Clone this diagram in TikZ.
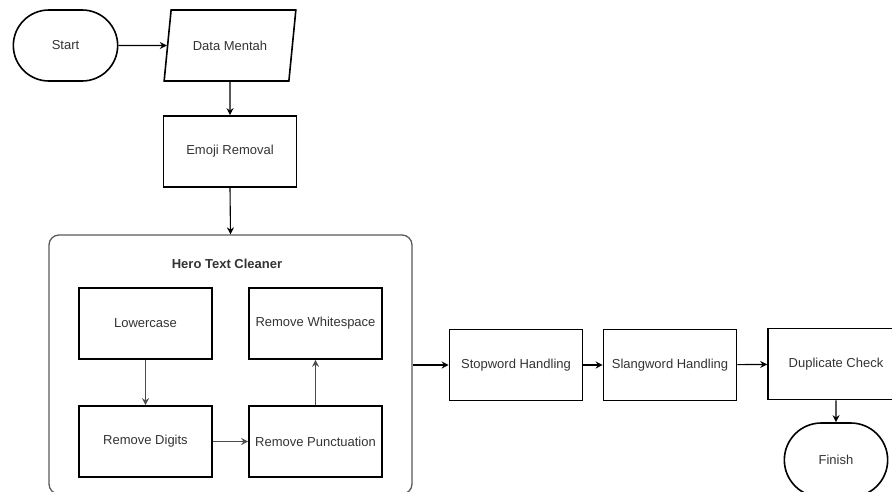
\documentclass[tikz,border=0pt]{standalone}
\usepackage{fontspec}
\setmainfont{Liberation Sans}
\usetikzlibrary{arrows.meta, shapes.geometric, shapes.misc}

\begin{document}
\begin{tikzpicture}[
    x = 1pt, y = -1pt,
    font = \fontsize{13}{15}\selectfont,
    text = black!80,
    %
    step box/.style = {draw, line width = 1.6pt,
      minimum width = {133pt},
      minimum height = {71pt}},
    terminal/.style = {draw, line width = 1.6pt,
      rounded rectangle, rounded rectangle arc length = 180,
      minimum width = {111pt},
      minimum height = {71pt}},
    io/.style = {draw, line width = 1.6pt, trapezium,
      trapezium left angle = 73.5, trapezium right angle = 106.5,
      trapezium stretches = true,
      minimum width = {132pt},
      minimum height = {71pt}},
    group/.style = {draw = black!65, line width = 1.3pt,
      rounded corners = 10pt,
      minimum width = {363pt},
      minimum height = {259pt}},
    %
    flow/.style = {line width = 1.1pt, -{Stealth[length = 7pt, width = 7pt]}},
    inner flow/.style = {flow, black!70},
    ]

    \clip (0, 0) rectangle (892, 492);

    \node at (65.5, 45.5)
    [terminal, name = start] {Start};
    \node at (230, 45.5)
    [io, name = data] {Data Mentah};
    \node at (230, 151.5)
    [step box, name = emoji] {Emoji Removal};

    % hero text cleaner group
    \node at (230.5, 364.5)
    [group, name = cleaner] {};
    \node at (227, 264)
    [font = \fontsize{13}{15}\selectfont\bfseries, name = cleaner_title]
    {Hero Text Cleaner};

    \node at (145.5, 323.5)
    [step box, name = lower] {Lowercase};
    \node at (315.5, 323.5)
    [step box, name = white] {Remove Whitespace};
    \node at (145.5, 441.5)
    [step box, name = digits] {Remove Digits};
    \node at (315.5, 441.5)
    [step box, name = punct] {Remove Punctuation};

    \node at (516, 365)
    [step box, name = stop] {Stopword Handling};
    \node at (670, 365)
    [step box, name = slang] {Slangword Handling};
    \node at (836, 364)
    [step box, minimum width = {136pt}, name = dup] {Duplicate Check};
    \node at (836, 460)
    [terminal, minimum width = {110pt}, minimum height = {74pt},
      name = finish] {Finish};

    \draw [flow] (start) to (data.west);
    \draw [flow] (data.south) to (emoji.north);
    \draw [flow] (emoji.south) to (cleaner.north);

    \draw [inner flow] (lower) to (digits);
    \draw [inner flow] (digits) to (punct);
    \draw [inner flow] (punct) to (white);

    \draw [flow] (cleaner.east |- stop.west) to (stop.west);
    \draw [flow] (stop) to (slang);
    \draw [flow] (slang) to (dup);
    \draw [flow] (dup) to (finish);

  \end{tikzpicture}
\end{document}
